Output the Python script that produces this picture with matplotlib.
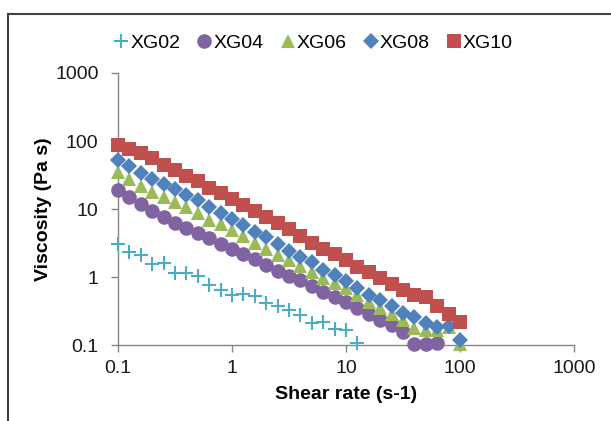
import matplotlib
matplotlib.use("Agg")
import matplotlib.pyplot as plt
from matplotlib.lines import Line2D
from matplotlib.ticker import LogLocator, NullLocator, FuncFormatter

plt.rcParams['font.family'] = ['Liberation Sans', 'DejaVu Sans']

# shear rate (s-1), 10 points per decade
shear_rate = [0.1, 0.126, 0.158, 0.2, 0.251, 0.316, 0.398, 0.501, 0.631, 0.794,
              1, 1.26, 1.58, 2, 2.51, 3.16, 3.98, 5.01, 6.31, 7.94,
              10, 12.6, 15.8, 20, 25.1, 31.6, 39.8, 50.1, 63.1, 79.4, 100]

# viscosity (Pa s)
xg02 = [3.1, 2.35, 2.1, 1.54, 1.6, 1.16, 1.13, 1.03, 0.76, 0.64,
        0.54, 0.56, 0.53, 0.42, 0.38, 0.33, 0.28, 0.21, 0.22, 0.17,
        0.165, 0.107]
xg04 = [19, 15, 12, 9.3, 7.7, 6.2, 5.2, 4.5, 3.7, 3.05,
        2.55, 2.2, 1.82, 1.5, 1.24, 1.02, 0.89, 0.73, 0.61, 0.51,
        0.43, 0.35, 0.29, 0.23, 0.2, 0.157, 0.105, 0.105, 0.106]
xg06 = [35, 28, 22, 18, 15, 12.8, 10.8, 8.8, 7.0, 6.0,
        4.9, 4.0, 3.2, 2.6, 2.1, 1.8, 1.45, 1.2, 0.96, 0.81,
        0.68, 0.54, 0.43, 0.35, 0.29, 0.23, 0.175, 0.168, 0.165, 0.185,
        0.105]
xg08 = [52, 43, 34, 28, 23.5, 20, 16, 13.5, 10.8, 8.8,
        7.1, 5.8, 4.6, 3.9, 3.1, 2.45, 1.95, 1.65, 1.28, 1.07,
        0.86, 0.68, 0.55, 0.46, 0.37, 0.3, 0.26, 0.21, 0.186, 0.19,
        0.118]
xg10 = [86, 76, 66, 56, 45, 38, 31, 25.5, 20.5, 17,
        13.8, 11.3, 9.2, 7.7, 6.2, 5.0, 4.0, 3.2, 2.6, 2.15,
        1.75, 1.42, 1.2, 0.98, 0.8, 0.64, 0.55, 0.5, 0.38, 0.29,
        0.22]

series = [
    ("XG02", xg02, "+", "#4BACC6", 10),
    ("XG04", xg04, "o", "#8064A2", 10.5),
    ("XG06", xg06, "^", "#9BBB59", 10.5),
    ("XG08", xg08, "D", "#4F81BD", 8.5),
    ("XG10", xg10, "s", "#C0504D", 9.5),
]

fig = plt.figure(figsize=(6.11, 4.21), dpi=100)
ax = fig.add_axes([118 / 611, 76 / 421, 456 / 611, 272 / 421])

for name, vals, marker, color, ms in series:
    ax.plot(shear_rate[:len(vals)], vals, linestyle="none", marker=marker,
            markersize=ms, color=color, markeredgewidth=1.5 if marker == "+" else 0,
            label=name, clip_on=False, zorder=3)

ax.set_xscale("log")
ax.set_yscale("log")
ax.set_xlim(0.1, 1000)
ax.set_ylim(0.1, 1000)
fmt = FuncFormatter(lambda v, p: f"{v:g}")
for axis in (ax.xaxis, ax.yaxis):
    axis.set_major_locator(LogLocator(base=10, numticks=10))
    axis.set_minor_locator(NullLocator())
    axis.set_major_formatter(fmt)

for side in ("top", "right"):
    ax.spines[side].set_visible(False)
for side in ("left", "bottom"):
    ax.spines[side].set_color("#868686")
    ax.spines[side].set_linewidth(1)
ax.tick_params(direction="out", length=5, width=1, color="#868686",
               labelsize=14, labelcolor="#1a1a1a")
ax.tick_params(axis="y", pad=9)
ax.tick_params(axis="x", pad=6)

ax.set_xlabel("Shear rate (s-1)", fontsize=14, fontweight="bold", labelpad=6)
ax.set_ylabel("Viscosity (Pa s)", fontsize=14, fontweight="bold", labelpad=2)

fig.legend(loc="center", bbox_to_anchor=(314 / 611, 1 - 43 / 421), ncol=5,
           frameon=False, fontsize=14, handlelength=0.6, handletextpad=0.15,
           columnspacing=0.95, borderaxespad=0)

# chart border (left and top edges visible in the crop)
fig.add_artist(Line2D([8 / 611, 8 / 611], [0, 1 - 14 / 421], color="#404040", lw=1.5))
fig.add_artist(Line2D([8 / 611, 1], [1 - 14 / 421, 1 - 14 / 421], color="#404040", lw=1.5))

fig.savefig("out.png", dpi=100)
